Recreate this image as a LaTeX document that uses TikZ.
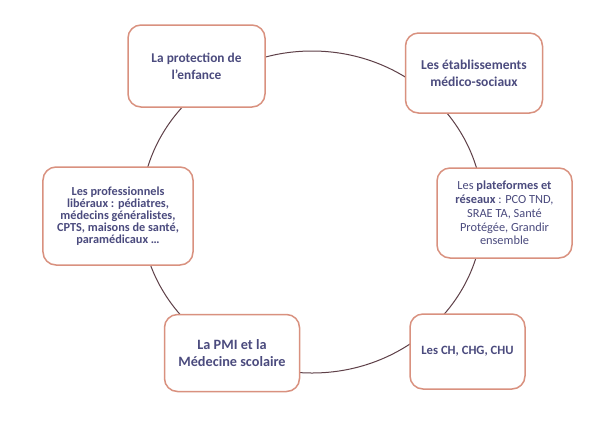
\documentclass[tikz,border=0pt]{standalone}
\usepackage{fontspec}
\setmainfont{Carlito}
\definecolor{boxc}{HTML}{D9917F}
\definecolor{txtc}{HTML}{4B4B7E}
\definecolor{ringc}{HTML}{5E4048}
\tikzset{
  box/.style={draw=boxc, line width=1.5bp, fill=white, rounded corners=13bp, align=center, text=txtc, inner sep=0pt},
}
\begin{document}
\begin{tikzpicture}[x=1bp,y=-1bp]
\useasboundingbox (0,0) rectangle (595,424);
\fill[white] (0,0) rectangle (595,424);
\draw[ringc, line width=1bp] (312,212) ellipse [x radius=171bp, y radius=161bp];
\node[box, font=\fontsize{13.4}{17}\selectfont\bfseries, minimum width=137bp, minimum height=82bp] (prot) at (196.5,66) {La protection de\\l’enfance};
\node[box, font=\fontsize{13.6}{17.3}\selectfont\bfseries, minimum width=137bp, minimum height=80bp] (etab) at (474,73) {Les établissements\\médico-sociaux};
\node[box, font=\fontsize{12.3}{12}\selectfont\bfseries, minimum width=150bp, minimum height=98bp] (lib) at (118,216) {Les professionnels\\libéraux : pédiatres,\\médecins généralistes,\\CPTS, maisons de santé,\\paramédicaux …};
\node[box, font=\fontsize{12.4}{13.8}\selectfont, minimum width=135bp, minimum height=90bp] (plat) at (504.5,213) {Les \textbf{plateformes et}\\\textbf{réseaux} : PCO TND,\\SRAE TA, Santé\\Protégée, Grandir\\ensemble};
\node[box, font=\fontsize{14.3}{17.7}\selectfont\bfseries, minimum width=135bp, minimum height=77bp] (pmi) at (232,353) {La PMI et la\\Médecine scolaire};
\node[box, font=\fontsize{12.7}{14}\selectfont\bfseries, minimum width=115bp, minimum height=75bp] (ch) at (467.5,351.5) {Les CH, CHG, CHU};
\end{tikzpicture}
\end{document}
